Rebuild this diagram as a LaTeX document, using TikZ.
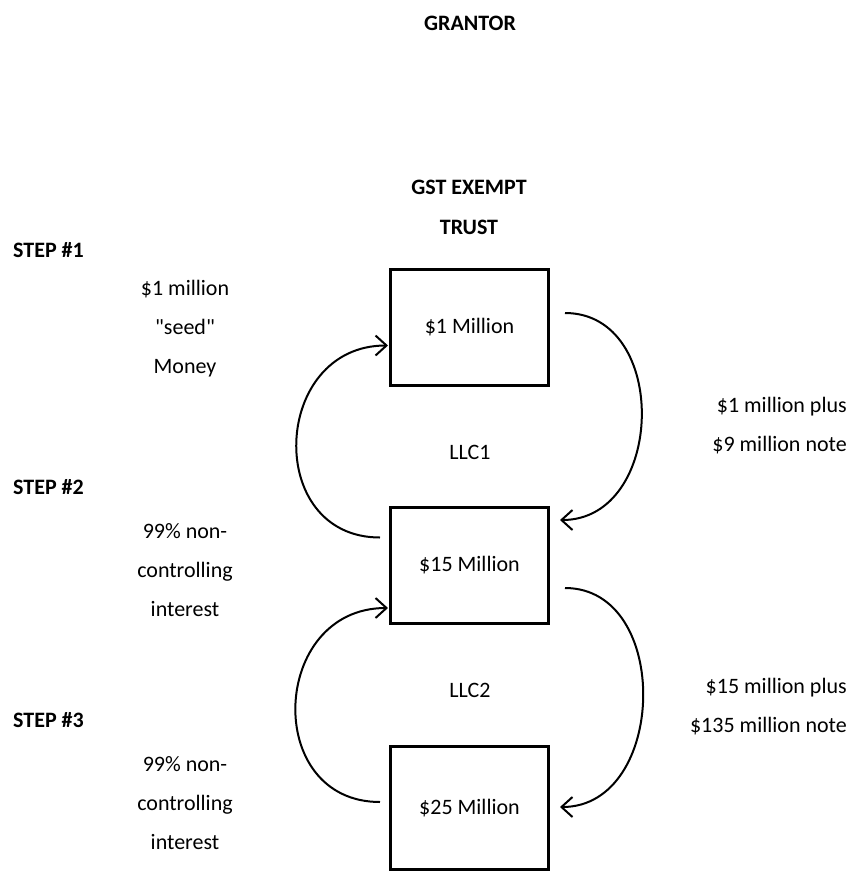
\documentclass[tikz,border=0pt]{standalone}
\usepackage{fontspec}
\setmainfont{Carlito}
\newfontfamily\qfont{Carlito}[Ligatures=TeXOff]
\usetikzlibrary{arrows.meta}

\begin{document}
\begin{tikzpicture}[
      x=1pt,y=-1pt,
      txt/.style={align=center,inner sep=0pt,font=\fontsize{22}{39}\selectfont},
      head/.style={txt,font=\fontsize{22}{40}\selectfont\bfseries},
      box/.style={draw,line width=3pt,minimum width=158pt,minimum height=116pt,
                  inner sep=0pt,font=\fontsize{22}{26}\selectfont},
      every edge/.style={draw,line width=2pt,-{Straight Barb[length=11pt,width=20pt]}}]
    \useasboundingbox (0,0) rectangle (856,873);

    \node[head] (grantor) at (470,23) {GRANTOR};
    \node[head] (trust) at (469,207) {GST EXEMPT\\TRUST};

    \node[head,anchor=west] (s1) at (13,250) {STEP \#1};
    \node[head,anchor=west] (s2) at (13,487) {STEP \#2};
    \node[head,anchor=west] (s3) at (13,720) {STEP \#3};

    \node[box] (b1) at (469.5,327.5) {\$1 Million};
    \node[box] (b15) at (469.5,565.5) {\$15 Million};
    \node[box,minimum height=123pt] (b25) at (469.5,808) {\$25 Million};

    \node[txt] (seed) at (185,329) {\$1 million\\{\qfont "seed"}\\Money};
    \node[txt] (nc1) at (185,570) {99\% non-\\controlling\\interest};
    \node[txt] (nc2) at (185,803) {99\% non-\\controlling\\interest};

    \node[txt] (llc1) at (470,452) {LLC1};
    \node[txt] (llc2) at (470,690) {LLC2};

    \node[txt,align=right,anchor=east] (n9) at (847,426)
      {\$1 million plus\\\$9 million note};
    \node[txt,align=right,anchor=east] (n135) at (847,707)
      {\$15 million plus\\\$135 million note};

    \draw ([xshift=-9pt,yshift=28pt]b15.west) edge[out=180,in=180,looseness=1.55]
      ([xshift=-1pt,yshift=-18pt]b1.west);
    \draw ([xshift=15pt,yshift=14.5pt]b1.east) edge[out=0,in=0,looseness=1.3]
      ([xshift=10pt,yshift=45.5pt]b15.east);
    \draw ([xshift=-9pt,yshift=6pt]b25.west) edge[out=180,in=180,looseness=1.55]
      ([xshift=-1pt,yshift=-42.5pt]b15.west);
    \draw ([xshift=15pt,yshift=-22.5pt]b15.east) edge[out=0,in=0,looseness=1.25]
      ([xshift=10pt,yshift=1pt]b25.east);
  \end{tikzpicture}
\end{document}
